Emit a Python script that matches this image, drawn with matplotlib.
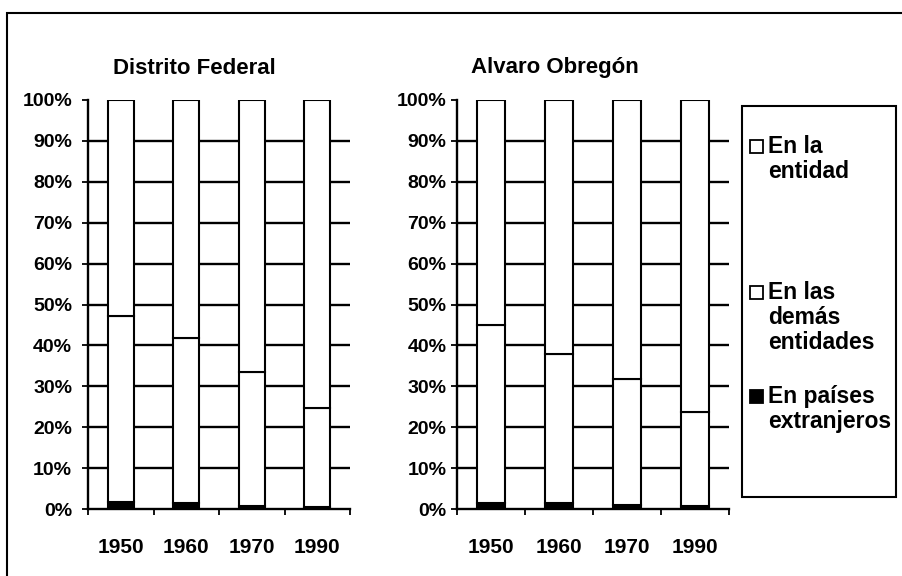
import numpy as np
import matplotlib
matplotlib.use('Agg')
import matplotlib.pyplot as plt
from matplotlib.patches import Rectangle

plt.rcParams['font.family'] = ['Liberation Sans', 'DejaVu Sans']
plt.rcParams['font.weight'] = 'bold'

## datos
anios = ['1950', '1960', '1970', '1990']
series = ['En la\nentidad', 'En las\ndemás\nentidades', 'En países\nextranjeros']

# Distrito Federal (%)
df_ext = [1.8, 1.4, 0.8, 0.5]
df_dem = [45.3, 40.4, 32.8, 24.3]
df_ent = [100 - a - b for a, b in zip(df_ext, df_dem)]

# Alvaro Obregon (%)
ao_ext = [1.5, 1.5, 1.0, 0.7]
ao_dem = [43.4, 36.3, 30.7, 22.9]
ao_ent = [100 - a - b for a, b in zip(ao_ext, ao_dem)]

W, H = 903, 576
fig = plt.figure(figsize=(W/100, H/100), dpi=100)

def px(x0, y0, x1, y1):
    # caja en pixeles -> fraccion de figura
    return [x0/W, 1 - y1/H, (x1 - x0)/W, (y1 - y0)/H]

def panel(rect, ext, dem, ent, titulo, tx, ypad):
    ax = fig.add_axes(rect)
    x = np.arange(len(anios))
    ax.bar(x, ext, 0.4, color='black', edgecolor='black', lw=1.5, zorder=3)
    ax.bar(x, dem, 0.4, bottom=ext, color='white', edgecolor='black', lw=1.5, zorder=3)
    bot = [a + b for a, b in zip(ext, dem)]
    ax.bar(x, ent, 0.4, bottom=bot, color='white', edgecolor='black', lw=1.5, zorder=3)

    # rejilla solo de 10% a 90%
    for g in range(10, 100, 10):
        ax.axhline(g, color='black', lw=1.7, zorder=1)

    ax.set_xlim(-0.5, 3.5)
    ax.set_ylim(0, 100)
    ax.set_yticks(range(0, 101, 10))
    ax.set_yticklabels([f'{v}%' for v in range(0, 101, 10)], fontsize=14, fontweight='bold')
    ax.tick_params(axis='y', direction='out', length=4.5, width=1.3, pad=ypad)
    ax.set_xticks(x)
    ax.set_xticklabels(anios, fontsize=15, fontweight='bold')
    ax.set_xticks(np.arange(-0.5, 4, 1), minor=True)
    ax.tick_params(axis='x', which='major', length=0, pad=21)
    ax.tick_params(axis='x', which='minor', direction='out', length=4, width=1.3)
    for s in ['top', 'right']:
        ax.spines[s].set_visible(False)
    for s in ['left', 'bottom']:
        ax.spines[s].set_linewidth(1.7)
    fig.text(tx/W, 1 - 68/H, titulo, ha='center', va='center', fontsize=16, fontweight='bold')
    return ax

ax1 = panel(px(88, 100, 350, 509), df_ext, df_dem, df_ent, 'Distrito Federal', 194, 7)
ax2 = panel(px(457, 100, 729, 509), ao_ext, ao_dem, ao_ent, 'Alvaro Obregón', 555, 3)

# marco exterior
fig.patches.append(Rectangle((7/W, -0.2), 2, 1.2 - 13/H, transform=fig.transFigure,
                             fill=False, ec='black', lw=1.5))

# leyenda a mano (estilo excel)
fig.patches.append(Rectangle((742/W, 1 - 497/H), (896 - 742)/W, (497 - 106)/H,
                             transform=fig.transFigure, fill=False, ec='black', lw=1.5))
ley_y = [147, 293, 397]
ley_col = ['white', 'white', 'black']
for lab, yy, c in zip(series, ley_y, ley_col):
    fig.patches.append(Rectangle((750/W, 1 - (yy + 6)/H), 13/W, 13/H,
                                 transform=fig.transFigure, fc=c, ec='black', lw=1.3))
    fig.text(768/W, 1 - (yy - 12)/H, lab, ha='left', va='top', fontsize=16.5,
             fontweight='bold', linespacing=1.12)

fig.savefig('out.png', dpi=100, facecolor='white')
